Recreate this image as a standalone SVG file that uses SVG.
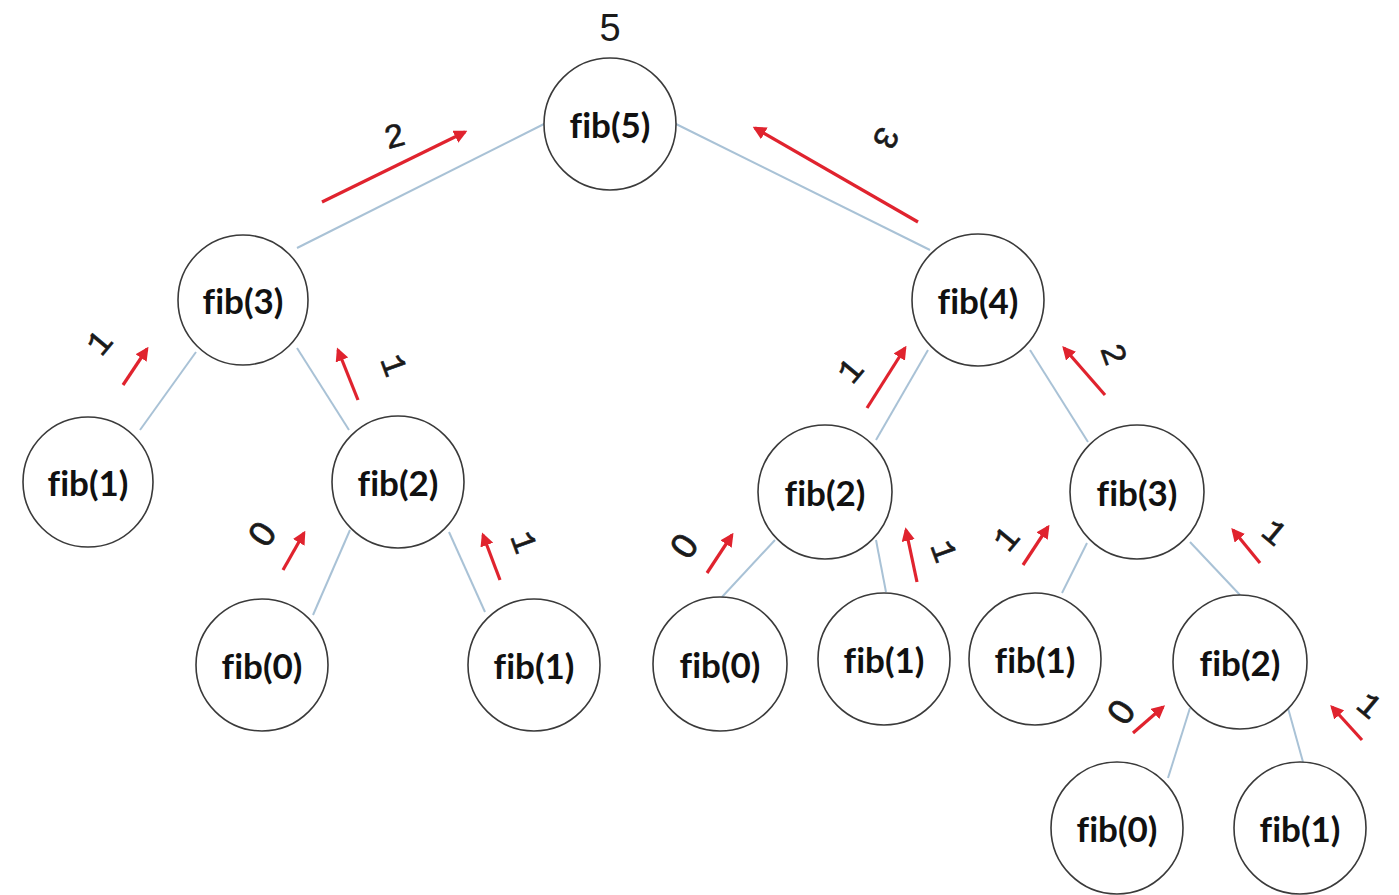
<svg xmlns="http://www.w3.org/2000/svg" width="1399" height="895" viewBox="0 0 1399 895">
<style>
.node circle{fill:#fff;stroke:#3a3a3a;stroke-width:1.6}
.node text{font-family:Lato,"Open Sans",sans-serif;font-weight:bold;font-size:35px;fill:#111;text-anchor:middle;dominant-baseline:central;font-variant-ligatures:none;font-feature-settings:"liga" 0}
.edge{stroke:#a9c2d6;stroke-width:2;fill:none}
.ret{stroke:#e0232e;stroke-width:3.2;fill:none;marker-end:url(#ah)}
.lbl{font-family:"Liberation Mono","DejaVu Sans Mono",monospace;font-size:34px;fill:#1a1a1a;stroke:#1a1a1a;stroke-width:0.6;text-anchor:middle;dominant-baseline:central}
.lbl.z{font-family:"Liberation Sans",Arial,sans-serif;font-size:36px;stroke-width:0.8}
</style>
<defs>
<marker id="ah" viewBox="0 0 10 10" refX="8" refY="5" markerWidth="4.2" markerHeight="4.2" orient="auto" markerUnits="strokeWidth">
<path d="M0,0 L10,5 L0,10 Z" fill="#e0232e"/>
</marker>
</defs>
<rect width="1399" height="895" fill="#fff"/>
<g id="connectors">
<line class="edge" x1="544" y1="124" x2="297" y2="248"/>
<line class="edge" x1="676" y1="124" x2="930" y2="250"/>
<line class="edge" x1="196" y1="352" x2="140" y2="430"/>
<line class="edge" x1="297" y1="348" x2="349" y2="430"/>
<line class="edge" x1="350" y1="530" x2="313" y2="615"/>
<line class="edge" x1="449" y1="532" x2="485" y2="612"/>
<line class="edge" x1="928" y1="350" x2="876" y2="440"/>
<line class="edge" x1="1030" y1="350" x2="1088" y2="442"/>
<line class="edge" x1="775" y1="540" x2="722" y2="597"/>
<line class="edge" x1="876" y1="540" x2="886" y2="592"/>
<line class="edge" x1="1087" y1="543" x2="1062" y2="593"/>
<line class="edge" x1="1190" y1="542" x2="1240" y2="595"/>
<line class="edge" x1="1190" y1="708" x2="1168" y2="778"/>
<line class="edge" x1="1288" y1="708" x2="1303" y2="762"/>
<g id="returns">
<line class="ret" x1="322" y1="202" x2="465" y2="132"/>
<line class="ret" x1="918" y1="222" x2="755" y2="128"/>
<line class="ret" x1="123" y1="385" x2="147" y2="349"/>
<line class="ret" x1="358" y1="400" x2="338" y2="350"/>
<line class="ret" x1="283" y1="570" x2="304" y2="533"/>
<line class="ret" x1="500" y1="580" x2="483" y2="535"/>
<line class="ret" x1="867" y1="408" x2="905" y2="348"/>
<line class="ret" x1="1105" y1="395" x2="1064" y2="348"/>
<line class="ret" x1="707" y1="573" x2="732" y2="535"/>
<line class="ret" x1="917" y1="582" x2="906" y2="530"/>
<line class="ret" x1="1023" y1="565" x2="1048" y2="527"/>
<line class="ret" x1="1260" y1="563" x2="1233" y2="530"/>
<line class="ret" x1="1133" y1="733" x2="1163" y2="707"/>
<line class="ret" x1="1362" y1="740" x2="1332" y2="707"/>
</g>
<g id="labels">
<text x="610" y="28" style="font-family:'Liberation Sans',sans-serif;font-size:38px;fill:#1a1a1a;text-anchor:middle;dominant-baseline:central">5</text>
<text class="lbl" transform="translate(395,138) rotate(-15)">2</text>
<text class="lbl" transform="translate(884,137) rotate(115)">3</text>
<text class="lbl" transform="translate(101,344) rotate(-50)">1</text>
<text class="lbl" transform="translate(392,366) rotate(70)">1</text>
<text class="lbl z" transform="translate(262,534) rotate(-55)">0</text>
<text class="lbl" transform="translate(522,543) rotate(70)">1</text>
<text class="lbl" transform="translate(852,372) rotate(-50)">1</text>
<text class="lbl" transform="translate(1112,355) rotate(70)">2</text>
<text class="lbl z" transform="translate(684,546) rotate(-55)">0</text>
<text class="lbl" transform="translate(942,552) rotate(70)">1</text>
<text class="lbl" transform="translate(1008,540) rotate(-50)">1</text>
<text class="lbl" transform="translate(1273,534) rotate(40)">1</text>
<text class="lbl z" transform="translate(1121,712) rotate(-55)">0</text>
<text class="lbl" transform="translate(1368,707) rotate(40)">1</text>
</g>
</g>
<g id="n_fib5" class="node"><circle cx="610" cy="124" r="66"/><text x="610" y="124">fib(5)</text></g>
<g id="n_fib3_a" class="node"><circle cx="243" cy="300" r="65"/><text x="243" y="300">fib(3)</text></g>
<g id="n_fib4" class="node"><circle cx="978" cy="300" r="66"/><text x="978" y="300">fib(4)</text></g>
<g id="n_fib1_a" class="node"><circle cx="88" cy="482" r="65"/><text x="88" y="482">fib(1)</text></g>
<g id="n_fib2_a" class="node"><circle cx="398" cy="482" r="66"/><text x="398" y="482">fib(2)</text></g>
<g id="n_fib0_a" class="node"><circle cx="262" cy="665" r="66"/><text x="262" y="665">fib(0)</text></g>
<g id="n_fib1_b" class="node"><circle cx="534" cy="665" r="66"/><text x="534" y="665">fib(1)</text></g>
<g id="n_fib2_b" class="node"><circle cx="825" cy="492" r="67"/><text x="825" y="492">fib(2)</text></g>
<g id="n_fib3_b" class="node"><circle cx="1137" cy="492" r="67"/><text x="1137" y="492">fib(3)</text></g>
<g id="n_fib0_b" class="node"><circle cx="720" cy="664" r="67"/><text x="720" y="664">fib(0)</text></g>
<g id="n_fib1_c" class="node"><circle cx="884" cy="659" r="66"/><text x="884" y="659">fib(1)</text></g>
<g id="n_fib1_d" class="node"><circle cx="1035" cy="659" r="66"/><text x="1035" y="659">fib(1)</text></g>
<g id="n_fib2_c" class="node"><circle cx="1240" cy="662" r="67"/><text x="1240" y="662">fib(2)</text></g>
<g id="n_fib0_c" class="node"><circle cx="1117" cy="828" r="66"/><text x="1117" y="828">fib(0)</text></g>
<g id="n_fib1_e" class="node"><circle cx="1300" cy="828" r="66"/><text x="1300" y="828">fib(1)</text></g>
</svg>
